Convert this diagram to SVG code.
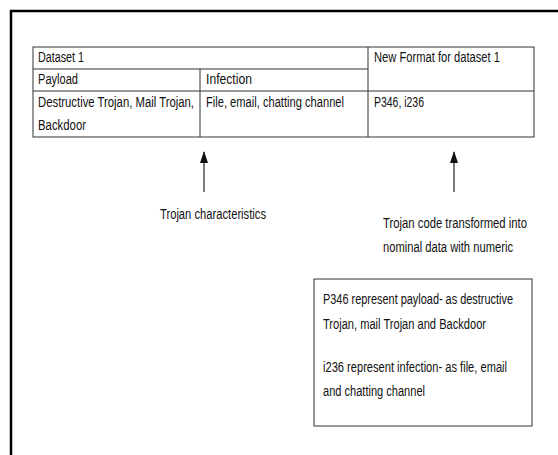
<svg xmlns="http://www.w3.org/2000/svg" width="558" height="455" viewBox="0 0 558 455">
<style>
text{font-family:"Liberation Sans",Arial,sans-serif;font-size:14px;fill:#111}
.cell{fill:#fff;stroke:#333;stroke-width:1}
.conn{stroke:#222;stroke-width:1.2;fill:none}
</style>
<defs>
<marker id="ah" markerWidth="12" markerHeight="8" refX="11" refY="4" orient="auto" markerUnits="userSpaceOnUse" viewBox="0 0 12 8">
<path d="M0,0 L12,4 L0,8 Z" fill="#111"/>
</marker>
</defs>
<rect width="558" height="455" fill="#fff"/>
<g id="frame">
<path d="M11,455 V11 H558" fill="none" stroke="#000" stroke-width="2.5"/>
</g>
<g id="table">
<rect class="cell" x="33" y="47" width="501" height="90"/>
<line class="cell" x1="33" y1="69" x2="368" y2="69"/>
<line class="cell" x1="33" y1="91" x2="534" y2="91"/>
<line class="cell" x1="200" y1="69" x2="200" y2="137"/>
<line class="cell" x1="368" y1="47" x2="368" y2="137"/>
<text x="38" y="62" textLength="46" lengthAdjust="spacingAndGlyphs">Dataset 1</text>
<text x="38" y="84" textLength="40" lengthAdjust="spacingAndGlyphs">Payload</text>
<text x="38" y="107" textLength="156" lengthAdjust="spacingAndGlyphs">Destructive Trojan, Mail Trojan,</text>
<text x="38" y="130" textLength="48" lengthAdjust="spacingAndGlyphs">Backdoor</text>
<text x="206" y="84" textLength="46" lengthAdjust="spacingAndGlyphs">Infection</text>
<text x="206" y="107" textLength="138" lengthAdjust="spacingAndGlyphs">File, email, chatting channel</text>
<text x="374" y="62" textLength="126" lengthAdjust="spacingAndGlyphs">New Format for dataset 1</text>
<text x="374" y="107" textLength="50" lengthAdjust="spacingAndGlyphs">P346, i236</text>
</g>
<g id="connectors">
<line class="conn" x1="204" y1="192" x2="204" y2="152" marker-end="url(#ah)"/>
<line class="conn" x1="454" y1="192" x2="454" y2="152" marker-end="url(#ah)"/>
</g>
<g id="label-characteristics">
<text x="160" y="219" textLength="106" lengthAdjust="spacingAndGlyphs">Trojan characteristics</text>
</g>
<g id="label-transformed">
<text x="383" y="228" textLength="144" lengthAdjust="spacingAndGlyphs">Trojan code transformed into</text>
<text x="383" y="252" textLength="130" lengthAdjust="spacingAndGlyphs">nominal data with numeric</text>
</g>
<g id="legend-box">
<rect x="314" y="279" width="218" height="147" fill="#fff" stroke="#333" stroke-width="1"/>
<text x="323" y="304" textLength="190" lengthAdjust="spacingAndGlyphs">P346 represent payload- as destructive</text>
<text x="323" y="329" textLength="163" lengthAdjust="spacingAndGlyphs">Trojan, mail Trojan and Backdoor</text>
<text x="323" y="372" textLength="184" lengthAdjust="spacingAndGlyphs">i236 represent infection- as file, email</text>
<text x="323" y="396" textLength="102" lengthAdjust="spacingAndGlyphs">and chatting channel</text>
</g>
</svg>
